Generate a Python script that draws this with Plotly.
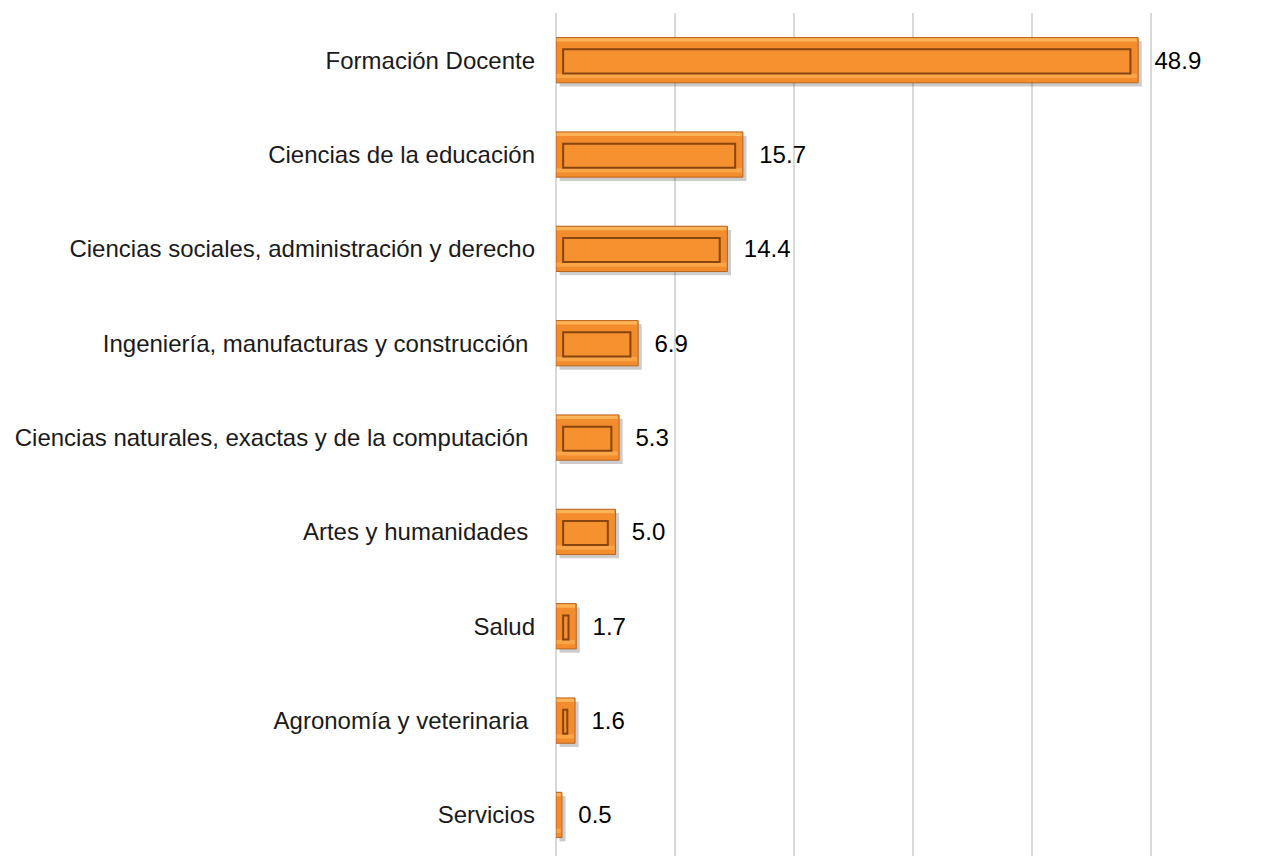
import plotly.graph_objects as go

categories = [
    "Formación Docente",
    "Ciencias de la educación",
    "Ciencias sociales, administración y derecho",
    "Ingeniería, manufacturas y construcción\u00a0",
    "Ciencias naturales, exactas y de la computación\u00a0",
    "Artes y humanidades\u00a0",
    "Salud",
    "Agronomía y veterinaria\u00a0",
    "Servicios",
]
values = [48.9, 15.7, 14.4, 6.9, 5.3, 5.0, 1.7, 1.6, 0.5]

FONT = "Liberation Sans, Arial, sans-serif"

inner = [v - 1.25 if v - 1.25 > 0.2 else None for v in values]
trimmed = [v - 0.15 if v > 0.4 else v for v in values]

fig = go.Figure()

# soft shadow
fig.add_trace(go.Bar(
    y=categories, x=values, base=0.3, orientation="h",
    width=0.48, offset=-0.24 + 0.04,
    marker=dict(color="rgba(0,0,0,0.2)", line=dict(width=0)),
    hoverinfo="skip", showlegend=False,
))
# main bar
fig.add_trace(go.Bar(
    y=categories, x=values, orientation="h",
    width=0.48, offset=-0.24,
    marker=dict(color="#F28C2C", line=dict(color="#B86522", width=1)),
    text=["\u00a0\u00a0" + f"{v:.1f}" for v in values],
    textposition="outside",
    textfont=dict(family=FONT, size=24, color="#000000"),
    cliponaxis=False,
    showlegend=False,
))
# top highlight
fig.add_trace(go.Bar(
    y=categories, x=trimmed, base=0.05, orientation="h",
    width=0.035, offset=-0.232,
    marker=dict(color="#FDB458", line=dict(width=0)),
    hoverinfo="skip", showlegend=False,
))
# bottom highlight
fig.add_trace(go.Bar(
    y=categories, x=trimmed, base=0.05, orientation="h",
    width=0.045, offset=0.145,
    marker=dict(color="#F9A548", line=dict(width=0)),
    hoverinfo="skip", showlegend=False,
))
# inner bevel rectangle
fig.add_trace(go.Bar(
    y=categories, x=inner, base=0.6, orientation="h",
    width=0.255, offset=-0.115,
    marker=dict(color="#F6912F", line=dict(color="rgba(115,55,10,0.85)", width=2)),
    hoverinfo="skip", showlegend=False,
))

fig.update_layout(
    width=1254, height=856,
    margin=dict(l=548, r=0, t=5, b=0),
    paper_bgcolor="white", plot_bgcolor="white",
    barmode="overlay",
    font=dict(family=FONT, size=24, color="#1a1a1a"),
    xaxis=dict(
        range=[0, 59.3], dtick=10, showticklabels=False,
        showgrid=True, gridcolor="#D9D9D9", gridwidth=1.5,
        zeroline=True, zerolinecolor="#D9D9D9", zerolinewidth=1.5,
        showline=False, fixedrange=True,
    ),
    yaxis=dict(
        categoryorder="array", categoryarray=categories,
        range=[8.52, -0.5], showgrid=False, zeroline=False,
        showline=False, ticks="", ticklabelstandoff=20,
        tickfont=dict(family=FONT, size=24, color="#1a1a1a"),
    ),
)

fig.write_html("out.html")
